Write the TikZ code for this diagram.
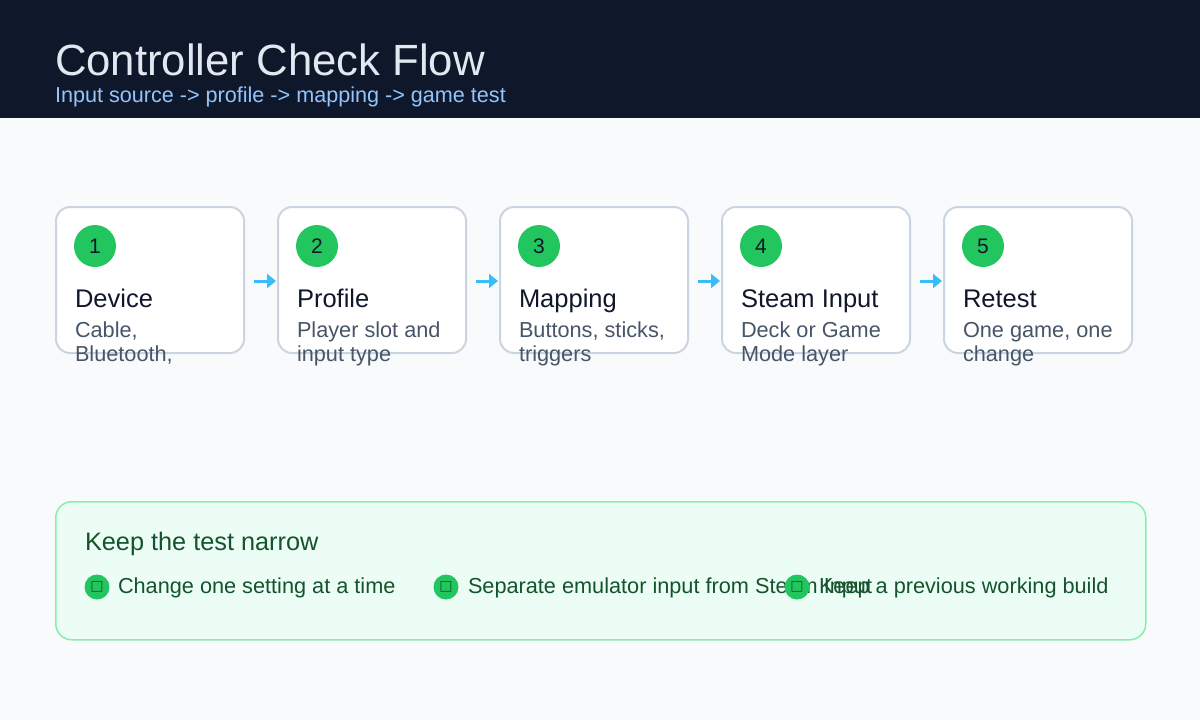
\documentclass[tikz,border=0pt]{standalone}
\usepackage{fontspec}
\usetikzlibrary{arrows.meta}
\setmainfont{Liberation Sans}
\newfontfamily\symfont{DejaVu Sans}
\definecolor{headbg}{HTML}{0F172A}
\definecolor{pagebg}{HTML}{F8FAFC}
\definecolor{titlec}{HTML}{E2E8F0}
\definecolor{subc}{HTML}{93C5FD}
\definecolor{boxline}{HTML}{CBD5E1}
\definecolor{badge}{HTML}{22C55E}
\definecolor{inkc}{HTML}{0F172A}
\definecolor{descc}{HTML}{475569}
\definecolor{arrowc}{HTML}{38BDF8}
\definecolor{panelbg}{HTML}{ECFDF5}
\definecolor{panelline}{HTML}{86EFAC}
\definecolor{panelink}{HTML}{14532D}
\begin{document}
\begin{tikzpicture}[x=1pt,y=-1pt,
  txt/.style={anchor=base west,inner sep=0pt,outer sep=0pt},
  stepbox/.style={draw=boxline,line width=2pt,fill=white,rounded corners=14pt,minimum width=188pt,minimum height=146pt,anchor=north west,inner sep=0pt},
  badgec/.style={circle,fill=badge,minimum size=42pt,inner sep=0pt,text=inkc,font=\fontsize{21}{24}\selectfont},
  steptitle/.style={txt,text=inkc,font=\fontsize{25.5}{28}\selectfont},
  stepdesc/.style={txt,text=descc,font=\fontsize{21.7}{24}\selectfont,align=left},
  flow/.style={draw=arrowc,line width=3pt,-{Triangle[length=9pt,width=14pt]}},
  bulletc/.style={circle,fill=badge,minimum size=25pt,inner sep=0pt,text=panelink,font=\symfont\fontsize{14}{16}\selectfont},
  bullettxt/.style={txt,text=panelink,font=\fontsize{21.7}{24}\selectfont}
]
\useasboundingbox (0,0) rectangle (1200,720);
\fill[pagebg] (0,0) rectangle (1200,720);
\fill[headbg] (0,0) rectangle (1200,118);
\node[txt,text=titlec,font=\fontsize{43.7}{48}\selectfont] (title) at (55,75) {Controller Check Flow};
\node[txt,text=subc,font=\fontsize{21.6}{24}\selectfont] (sub) at (55,102) {Input source -> profile -> mapping -> game test};

% step boxes
\foreach \i/\t/\da/\db [count=\k from 0] in {1/Device/{Cable,}/{Bluetooth,},2/Profile/Player slot and/input type,3/Mapping/{Buttons, sticks,}/triggers,4/Steam Input/Deck or Game/Mode layer,5/Retest/{One game, one}/change}{
  \pgfmathsetmacro\bx{55+222*\k}
  \node[stepbox] (box\i) at (\bx,206) {};
  \node[badgec] (badge\i) at (\bx+40,246) {\i};
  \node[steptitle] (title\i) at (\bx+20,307) {\t};
  \node[stepdesc] (desca\i) at (\bx+20,337) {\da};
  \node[stepdesc] (descb\i) at (\bx+20,361) {\db};
}
\foreach \a/\b in {1/2,2/3,3/4,4/5}{
  \draw[flow] ([xshift=9pt,yshift=-1pt]box\a.east) -- ([xshift=-1pt,yshift=-1pt]box\b.west);
}

% panel
\node[draw=panelline,line width=1.5pt,fill=panelbg,rounded corners=16pt,minimum width=1090pt,minimum height=138pt,anchor=north west,inner sep=0pt] (panel) at (55,501) {};
\node[txt,text=panelink,font=\fontsize{25.3}{28}\selectfont] (ptitle) at (85,550) {Keep the test narrow};
\node[bulletc] (b1) at (97,587) {□};
\node[bullettxt] (t1) at (118,593) {Change one setting at a time};
\node[bulletc] (b2) at (446,587) {□};
\node[bullettxt] (t2) at (468,593) {Separate emulator input from Steam Input};
\node[bulletc] (b3) at (797,587) {□};
\node[bullettxt] (t3) at (819,593) {Keep a previous working build};
\end{tikzpicture}
\end{document}
